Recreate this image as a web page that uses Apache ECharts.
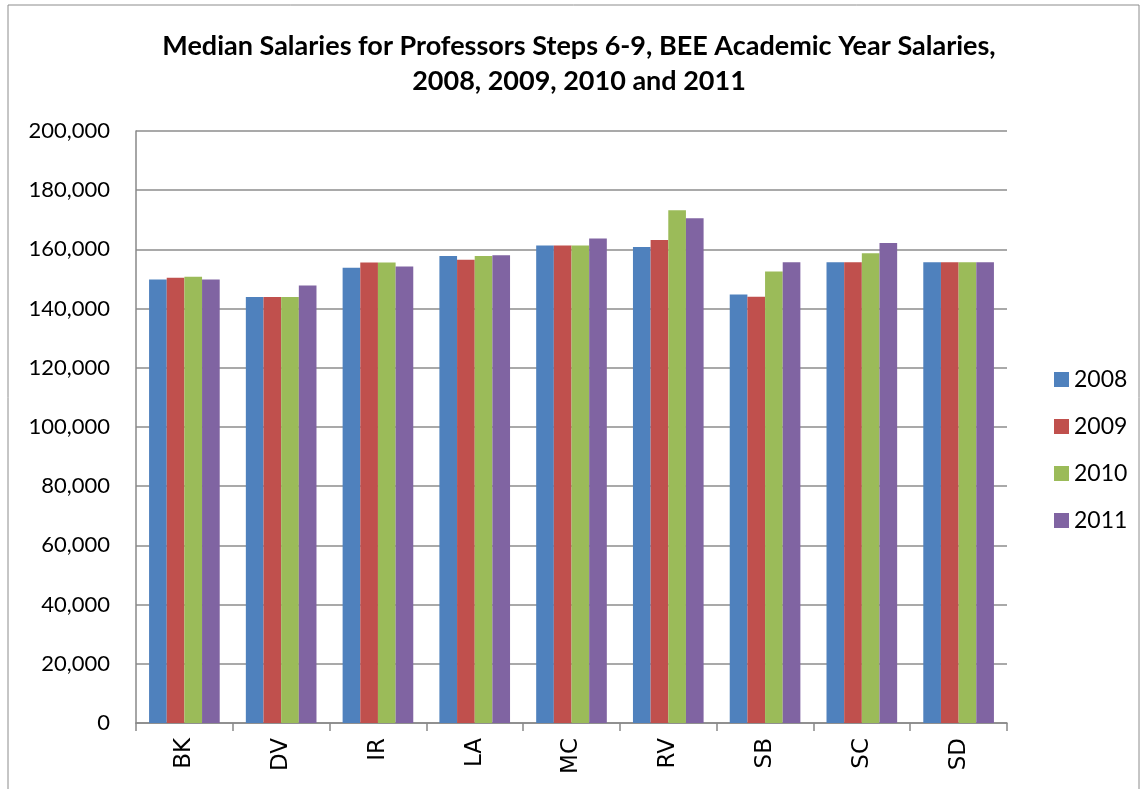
<!DOCTYPE html>
<html lang="en">
  <head>
    <meta charset="UTF-8" />
    <title>Median Salaries</title>
    <script src="https://cdn.jsdelivr.net/npm/echarts@6/dist/echarts.min.js"></script>
    <style>
      html, body { margin: 0; padding: 0; background: #fff; }
      #main { width: 1143px; height: 789px; }
    </style>
  </head>
  <body>
    <div id="main"></div>
    <script>
      // campuses on the x axis
      var campuses = ['BK', 'DV', 'IR', 'LA', 'MC', 'RV', 'SB', 'SC', 'SD'];
      var years = ['2008', '2009', '2010', '2011'];
      // median salaries
      var sal2008 = [149800, 143900, 153800, 157800, 161300, 160800, 144800, 155700, 155700];
      var sal2009 = [150400, 143900, 155600, 156500, 161300, 163200, 144000, 155700, 155700];
      var sal2010 = [150800, 143900, 155600, 157800, 161300, 173200, 152500, 158700, 155700];
      var sal2011 = [149800, 147800, 154200, 158000, 163700, 170500, 155700, 162200, 155700];
      var colors = ['#4f81bd', '#c0504d', '#9bbb59', '#8064a2'];

      var myChart = echarts.init(document.getElementById('main'));
      var allData = [sal2008, sal2009, sal2010, sal2011];
      var series = years.map(function (y, i) {
        return {
          name: y,
          type: 'bar',
          data: allData[i],
          barGap: '0%',
          barCategoryGap: '27%',
          itemStyle: { color: colors[i] }
        };
      });

      var option = {
        backgroundColor: '#fff',
        animation: false,
        color: colors,
        title: {
          text: 'Median Salaries for Professors Steps 6-9, BEE Academic Year Salaries,\n2008, 2009, 2010 and 2011',
          left: 574,
          textAlign: 'center',
          top: 24,
          textStyle: {
            fontFamily: 'Lato',
            fontWeight: 'bold',
            fontSize: 27,
            lineHeight: 35,
            color: '#000'
          }
        },
        graphic: [{
          type: 'rect',
          shape: { x: 8, y: 5, width: 1131, height: 800 },
          style: { fill: 'none', stroke: '#8c8c8c', lineWidth: 1 },
          silent: true
        }],
        legend: {
          orient: 'vertical',
          left: 1049,
          top: 363,
          itemWidth: 15,
          itemHeight: 15,
          itemGap: 24,
          itemStyle: { borderWidth: 0 },
          icon: 'rect',
          textStyle: { fontFamily: 'Lato', fontSize: 23, color: '#000' },
          data: years
        },
        grid: { left: 136, right: 136, top: 131, bottom: 66 },
        xAxis: {
          type: 'category',
          data: campuses,
          axisLine: { lineStyle: { color: '#888', width: 1.5 } },
          axisTick: { show: true, length: 8, lineStyle: { color: '#888', width: 1.5 } },
          axisLabel: {
            rotate: 90,
            fontFamily: 'DejaVu Sans',
            fontSize: 23,
            color: '#000',
            margin: 15
          }
        },
        yAxis: {
          type: 'value',
          min: 0,
          max: 200000,
          interval: 20000,
          axisLine: { show: true, lineStyle: { color: '#888', width: 1.5 } },
          axisTick: { show: false },
          splitLine: { lineStyle: { color: '#8c8c8c', width: 1.5 } },
          axisLabel: {
            fontFamily: 'Lato',
            fontSize: 22,
            color: '#000',
            margin: 26,
            formatter: function (v) { return v.toLocaleString('en-US'); }
          }
        },
        series: series
      };
      myChart.setOption(option);
    </script>
  </body>
</html>
